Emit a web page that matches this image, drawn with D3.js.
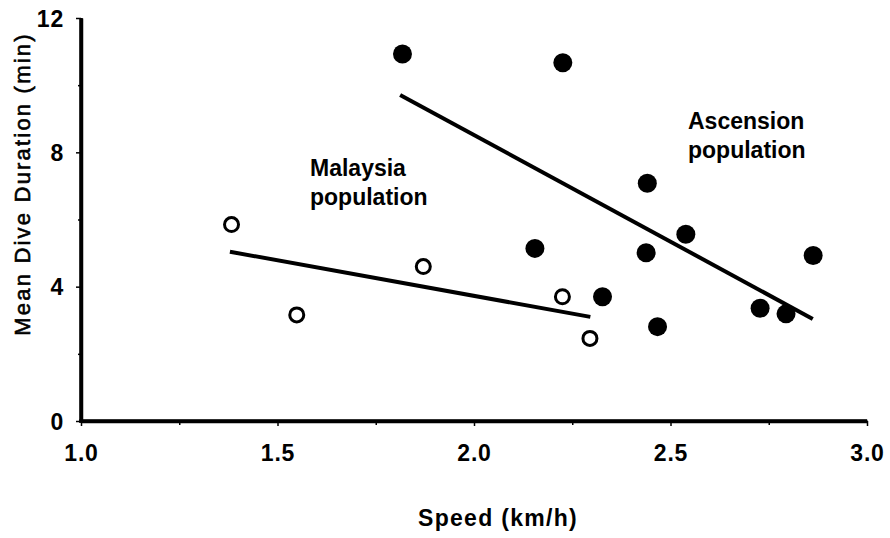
<!DOCTYPE html>
<html><head><meta charset="utf-8">
<script src="https://cdn.jsdelivr.net/npm/d3@7"></script>
<style>body{margin:0;background:#fff}svg{display:block}text{font-family:"Liberation Sans",Arial,sans-serif;fill:#000}</style>
</head><body><svg id="c" width="890" height="538"></svg>
<script>
const xTicks = [1.0, 1.5, 2.0, 2.5, 3.0];
const xMinor = [1.25, 1.75, 2.25, 2.75];
const yTicks = [0, 4, 8, 12];
const yMinor = [2, 6, 10];
const ascSpeed = [1.818, 2.226, 2.441, 2.539, 2.438, 2.155, 2.863, 2.327, 2.467, 2.728, 2.794];
const ascDur   = [10.93, 10.67, 7.08, 5.56, 5.01, 5.14, 4.93, 3.70, 2.81, 3.36, 3.19];
const malSpeed = [1.383, 1.549, 1.871, 2.225, 2.295];
const malDur   = [5.85, 3.16, 4.60, 3.70, 2.46];
const ascLine = [[1.812, 9.71], [2.862, 3.04]];
const malLine = [[1.379, 5.04], [2.296, 3.10]];

const svg = d3.select("#c");
const x = d3.scaleLinear().domain([1, 3]).range([81, 867]);
const y = d3.scaleLinear().domain([0, 12]).range([421, 18]);

const fmt = d3.format(".1f");
const gx = svg.append("g").attr("transform", `translate(0,${y(0)})`)
  .call(d3.axisBottom(x).tickValues(xTicks).tickFormat(fmt).tickSize(5).tickSizeOuter(0).tickPadding(19));
const gxm = svg.append("g").attr("transform", `translate(0,${y(0)})`)
  .call(d3.axisBottom(x).tickValues(xMinor).tickFormat("").tickSize(4).tickSizeOuter(0));
const gy = svg.append("g").attr("transform", `translate(${x(1)},0)`)
  .call(d3.axisLeft(y).tickValues(yTicks).tickSize(5).tickSizeOuter(0).tickPadding(12));
const gym = svg.append("g").attr("transform", `translate(${x(1)},0)`)
  .call(d3.axisLeft(y).tickValues(yMinor).tickFormat("").tickSize(3).tickSizeOuter(0));
[gx, gxm, gy, gym].forEach(g => {
  g.select(".domain").attr("stroke", "#000").attr("stroke-width", 3.5);
  g.selectAll(".tick line").attr("stroke", "#000").attr("stroke-width", 1.5);
  g.selectAll(".tick text").attr("font-size", 23).attr("font-weight", "bold")
    .attr("letter-spacing", 0.8).attr("font-family", "Liberation Sans, Arial, sans-serif");
});
gx.selectAll(".domain").attr("d", `M${x(1)-1.75},0H${x(3)}`);
gy.selectAll(".domain").attr("d", `M0,${y(12)}V${y(0)+1.75}`);
gy.selectAll(".tick text").attr("dy", "0.36em");

const line = d3.line().x(d => x(d[0])).y(d => y(d[1]));
[ascLine, malLine].forEach(l => svg.append("path").attr("d", line(l))
  .attr("stroke", "#000").attr("stroke-width", 4).attr("fill", "none"));

svg.append("g").selectAll("circle").data(d3.zip(malSpeed, malDur)).join("circle")
  .attr("cx", d => x(d[0])).attr("cy", d => y(d[1])).attr("r", 7)
  .attr("fill", "#fff").attr("stroke", "#000").attr("stroke-width", 3);
svg.append("g").selectAll("circle").data(d3.zip(ascSpeed, ascDur)).join("circle")
  .attr("cx", d => x(d[0])).attr("cy", d => y(d[1])).attr("r", 9.5)
  .attr("fill", "#000");

const lab = (tx, ty, lines) => {
  const t = svg.append("text").attr("x", tx).attr("y", ty).attr("font-size", 23).attr("font-weight", "bold");
  lines.forEach((s, i) => t.append("tspan").attr("x", tx).attr("dy", i ? 28.5 : 0).text(s));
};
lab(310, 176, ["Malaysia", "population"]);
lab(688, 129, ["Ascension", "population"]);

svg.append("text").attr("x", 498).attr("y", 526).attr("text-anchor", "middle")
  .attr("font-size", 23).attr("font-weight", "bold").attr("letter-spacing", 1.3).text("Speed (km/h)");
svg.append("text").attr("transform", "translate(30,184) rotate(-90)").attr("text-anchor", "middle")
  .attr("font-size", 22).attr("letter-spacing", 2.2).attr("stroke", "#000").attr("stroke-width", 0.6)
  .text("Mean Dive Duration (min)");
</script></body></html>
